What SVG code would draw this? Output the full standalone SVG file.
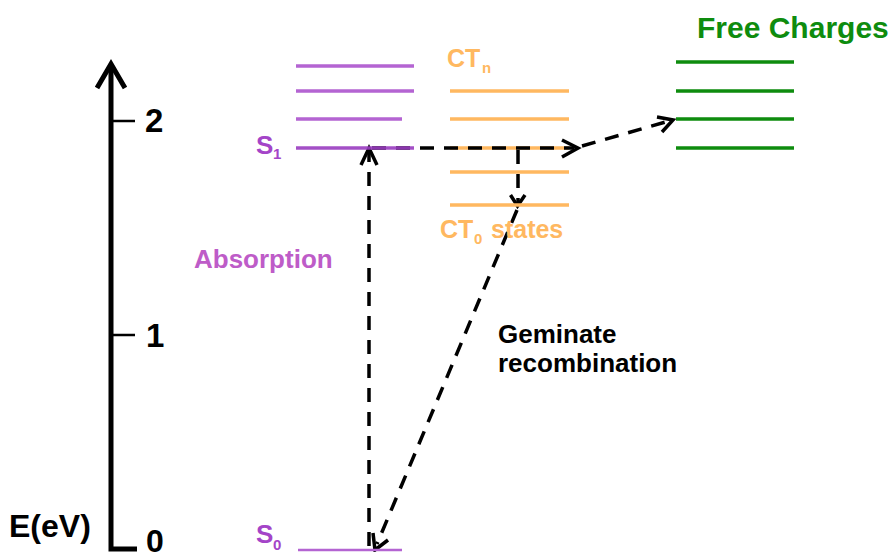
<svg xmlns="http://www.w3.org/2000/svg" width="892" height="552" viewBox="0 0 892 552">
<style>
text{font-family:"Liberation Sans",Arial,sans-serif;font-weight:bold}
.ax{stroke:#000;fill:none}
.pu{stroke:#B464D2;stroke-width:3.5}
.or{stroke:#FFB860;stroke-width:3.5}
.gr{stroke:#0E8C0E;stroke-width:3.5}
.dash{stroke:#000;stroke-width:3.5;stroke-dasharray:14 10;fill:none}
.arr{stroke:#000;stroke-width:3.5;fill:none}
</style>
<rect width="892" height="552" fill="#fff"/>
<g id="axis">
<path class="ax" d="M111 66 V549 H137" stroke-width="5"/>
<path class="ax" d="M97 88 L111 64 L125 88" stroke-width="5"/>
<path class="ax" d="M113 121 H135 M113 335 H135" stroke-width="2.5"/>
<text x="145" y="132" font-size="33">2</text>
<text x="146" y="347" font-size="33">1</text>
<text x="146" y="552" font-size="32">0</text>
<text x="9" y="537" font-size="32">E(eV)</text>
</g>
<g id="connectors">
<path class="dash" d="M369 546 V152"/>
<path class="arr" d="M361 165 L369 148 L377 165"/>
<path class="or" d="M450 148 H569"/>
<path class="dash" d="M372 148 H574"/>
<path class="arr" d="M562 140 L578 148 L562 157"/>
<path class="dash" d="M582 146 L669 121"/>
<path class="arr" d="M657 117 L673 120 L662 132"/>
<path class="dash" d="M518 150 V203"/>
<path class="arr" d="M510.5 195 L517.5 206 L525 195"/>
<path class="dash" d="M517 210 L377 544"/>
<path class="arr" d="M373 533 L375 550 L388 540"/>
</g>
<g id="S-states">
<path class="pu" d="M296 66 H414 M296 91 H414 M296 119 H402"/>
<path d="M296 148 H414" stroke="#9A3CC0" stroke-width="3.5" opacity="0.9"/>
<path d="M298 550 H402" stroke="#B464D2" stroke-width="2.5"/>
<text x="256" y="154" font-size="26" fill="#A444C8">S</text>
<text x="273" y="159" font-size="15" fill="#A444C8">1</text>
<text x="256" y="543" font-size="26" fill="#A444C8">S</text>
<text x="273" y="550" font-size="15" fill="#A444C8">0</text>
<text x="194" y="268" font-size="26" fill="#BE5CC8">Absorption</text>
</g>
<g id="CT-states">
<path class="or" d="M450 91 H569 M450 119 H569 M450 172 H569 M450 205 H569"/>
<text x="447" y="67" font-size="25" fill="#FFB860">CT</text>
<text x="482" y="73" font-size="15" fill="#FFB860">n</text>
<text x="440" y="238" font-size="25" fill="#FFB860">CT</text>
<text x="474" y="244" font-size="15" fill="#FFB860">0</text>
<text x="491" y="238" font-size="25" fill="#FFB860">states</text>
</g>
<g id="free-charges">
<path class="gr" d="M676 62 H794 M676 91 H794 M676 119 H794 M676 148 H794"/>
<text x="697" y="38" font-size="30" fill="#0E8C0E">Free Charges</text>
</g>
<g id="geminate-label">
<text x="498" y="343" font-size="26" fill="#000">Geminate</text>
<text x="498" y="372" font-size="26" fill="#000">recombination</text>
</g>
</svg>
